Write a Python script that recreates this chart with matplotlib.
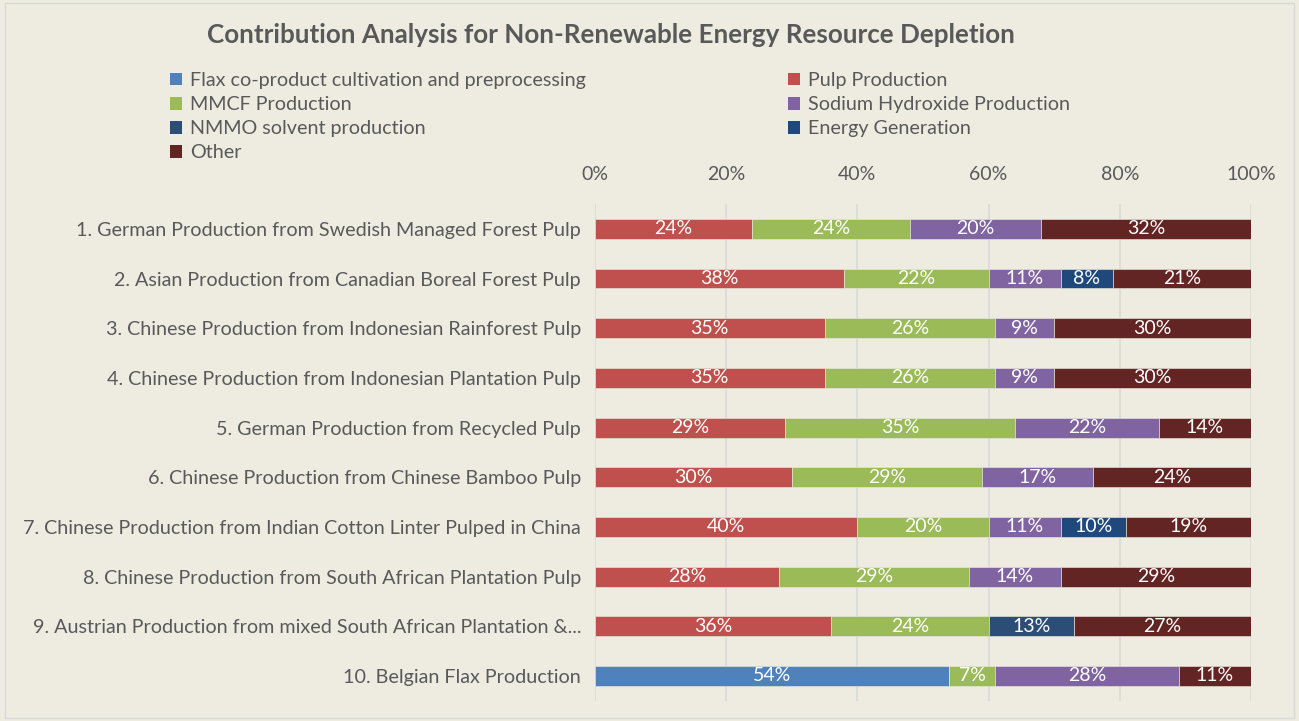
import numpy as np
import matplotlib.pyplot as plt
from matplotlib.patches import Patch, Rectangle

plt.rcParams['font.family'] = ['Lato', 'DejaVu Sans']

# Категории (сверху вниз)
categories = [
    "1. German Production from Swedish Managed Forest Pulp",
    "2. Asian Production from Canadian Boreal Forest Pulp",
    "3. Chinese Production from Indonesian Rainforest Pulp",
    "4. Chinese Production from Indonesian Plantation Pulp",
    "5. German Production from Recycled Pulp",
    "6. Chinese Production from Chinese Bamboo Pulp",
    "7. Chinese Production from Indian Cotton Linter Pulped in China",
    "8. Chinese Production from South African Plantation Pulp",
    "9. Austrian Production from mixed South African Plantation &...",
    "10. Belgian Flax Production",
]

# Доли (%) по стадиям
flax = [0, 0, 0, 0, 0, 0, 0, 0, 0, 54]
pulp = [24, 38, 35, 35, 29, 30, 40, 28, 36, 0]
mmcf = [24, 22, 26, 26, 35, 29, 20, 29, 24, 7]
sodium = [20, 11, 9, 9, 22, 17, 11, 14, 0, 28]
nmmo = [0, 0, 0, 0, 0, 0, 0, 0, 13, 0]
energy = [0, 8, 0, 0, 0, 0, 10, 0, 0, 0]
other = [32, 21, 30, 30, 14, 24, 19, 29, 27, 11]

series = [
    ("Flax co-product cultivation and preprocessing", flax, "#4F81BD"),
    ("Pulp Production", pulp, "#C0504D"),
    ("MMCF Production", mmcf, "#9BBB59"),
    ("Sodium Hydroxide Production", sodium, "#8064A2"),
    ("NMMO solvent production", nmmo, "#2C4D75"),
    ("Energy Generation", energy, "#1F497D"),
    ("Other", other, "#632523"),
]

bg = "#EEECE1"
txt = "#595959"
fs = 14

fig = plt.figure(figsize=(12.99, 7.21), dpi=100, facecolor=bg)
ax = fig.add_axes([0.458, 0.028, 0.505, 0.689], facecolor=bg)

y = np.arange(len(categories))
left = np.zeros(len(categories))
handles = {}
for name, vals, color in series:
    vals = np.array(vals, dtype=float)
    bars = ax.barh(y, vals / 100, left=left, height=0.4, color=color,
                   edgecolor=bg, linewidth=0.4, zorder=3)
    for b, v in zip(bars, vals):
        if v > 0:
            ax.text(b.get_x() + b.get_width() / 2, b.get_y() + b.get_height() / 2,
                    f"{int(v)}%", ha='center', va='center', color='white',
                    fontsize=fs, zorder=4)
    left += vals / 100
    handles[name] = Patch(facecolor=color, label=name)

ax.set_xlim(0, 1)
ax.set_ylim(len(categories) - 0.5, -0.5)
ax.set_yticks(y)
ax.set_yticklabels(categories, fontsize=14.2, color=txt)
ax.set_xticks(np.linspace(0, 1, 6))
ax.set_xticklabels([f"{int(p)}%" for p in np.linspace(0, 100, 6)], fontsize=fs, color=txt)
ax.xaxis.tick_top()
ax.tick_params(axis='both', length=0)
ax.tick_params(axis='y', pad=10)
ax.tick_params(axis='x', pad=15)
ax.grid(axis='x', color='#D9D9D9', linewidth=1.2, zorder=0)
for s in ax.spines.values():
    s.set_visible(False)

fig.text(0.4705, 0.951, "Contribution Analysis for Non-Renewable Energy Resource Depletion",
         ha='center', va='center', fontsize=18.7, fontweight='bold', color=txt)

order = ["Flax co-product cultivation and preprocessing", "MMCF Production",
         "NMMO solvent production", "Other", "Pulp Production",
         "Sodium Hydroxide Production", "Energy Generation"]
leg = fig.legend(handles=[handles[n] for n in order], ncol=2, loc='upper left',
                 bbox_to_anchor=(0.131, 0.9), frameon=False, fontsize=14.2,
                 handlelength=0.6, handleheight=0.6, handletextpad=0.4,
                 columnspacing=10.25, labelspacing=0.36, labelcolor=txt,
                 borderaxespad=0, borderpad=0)

fig.patches.append(Rectangle((0.004, 0.004), 0.992, 0.992, transform=fig.transFigure,
                             fill=False, edgecolor='#D9D9D9', linewidth=1))

fig.savefig("out.png", dpi=100, facecolor=bg)
